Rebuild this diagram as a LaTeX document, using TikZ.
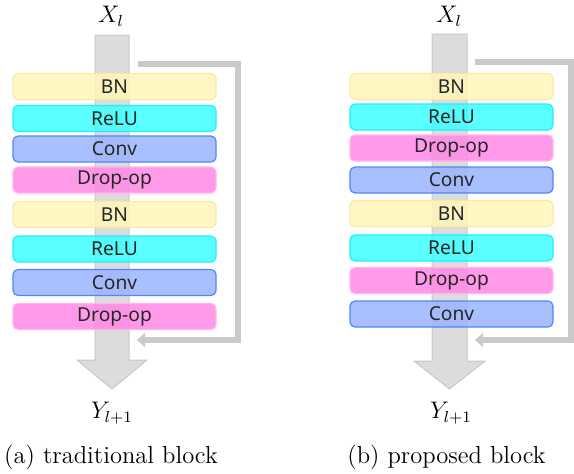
\documentclass[tikz,border=0pt]{standalone}
\usepackage{fontspec}
\newfontfamily\opfont{Noto Sans}
\usetikzlibrary{arrows.meta, positioning}

\definecolor{bnfill}{HTML}{FFF7BA}
\definecolor{bnline}{HTML}{FBEA9C}
\definecolor{relufill}{HTML}{3DFFFF}
\definecolor{reluline}{HTML}{22EEFF}
\definecolor{convfill}{HTML}{9BB4FF}
\definecolor{convline}{HTML}{4F86FF}
\definecolor{dropfill}{HTML}{FF88E6}
\definecolor{dropline}{HTML}{FFB4F0}
\definecolor{shaftgray}{HTML}{DCDCDC}
\definecolor{shaftline}{HTML}{C8C8C8}
\definecolor{skipgray}{HTML}{CBCACA}

\begin{document}
\begin{tikzpicture}[x=0.5pt, y=-0.5pt,
        op/.style={rectangle, rounded corners=2.5pt, line width=0.6pt,
                   fill opacity=0.85, text opacity=1, inner sep=0pt,
                   minimum width=101.5pt, minimum height=13pt,
                   text=black!85, font=\opfont\fontsize{9.6}{11}\selectfont},
        bn/.style={op, draw=bnline, fill=bnfill},
        relu/.style={op, draw=reluline, fill=relufill},
        conv/.style={op, draw=convline, fill=convfill},
        drop/.style={op, draw=dropline, fill=dropfill},
        shaft/.style={fill=shaftgray, draw=shaftline, line width=0.5pt},
        skip/.style={draw=skipgray, line width=3pt,
                     -{Triangle[length=4pt,width=7pt]}},
        io/.style={font=\fontsize{12}{14}\selectfont},
        subcap/.style={font=\fontsize{12.3}{14}\selectfont}]
      \useasboundingbox (0,0) rectangle (574,473);

      % main paths behind the layers
      \fill[shaft] (95,35) -- (129,35) -- (129,360) -- (147,360) -- (112,389)
                   -- (77,360) -- (95,360) -- cycle;
      \fill[shaft] (432,34) -- (467,34) -- (467,361) -- (485,361) -- (449.5,389)
                   -- (414,361) -- (432,361) -- cycle;

      % (a) traditional block
      \node[io] (xa) at (111,16) {$X_l$};
      \node[bn]   (a1) at (114.5,86.5)  {BN};
      \node[relu] (a2) at (114.5,118.5) {ReLU};
      \node[conv] (a3) at (114.5,149)   {Conv};
      \node[drop] (a4) at (114.5,180)   {Drop-op};
      \node[bn]   (a5) at (114.5,214.5) {BN};
      \node[relu] (a6) at (114.5,249)   {ReLU};
      \node[conv] (a7) at (114.5,282.5) {Conv};
      \node[drop] (a8) at (114.5,316.5) {Drop-op};
      \node[io] (ya) at (112,413) {$Y_{l+1}$};
      \node[subcap] (capa) at (111,457) {(a) traditional block};

      \coordinate (askipin)  at (138,63.5);
      \coordinate (askipout) at (137,340);
      \draw[skip] (askipin) -- (238,63.5) -- (238,340) -- (askipout);

      % (b) proposed block
      \node[io] (xb) at (449,16) {$X_l$};
      \node[bn]   (b1) at (451.5,86.5) {BN};
      \node[relu] (b2) at (451.5,117)  {ReLU};
      \node[drop] (b3) at (451.5,148)  {Drop-op};
      \node[conv] (b4) at (451.5,180)  {Conv};
      \node[bn]   (b5) at (451.5,213.5) {BN};
      \node[relu] (b6) at (451.5,248)  {ReLU};
      \node[drop] (b7) at (451.5,280.5) {Drop-op};
      \node[conv] (b8) at (451.5,314)  {Conv};
      \node[io] (yb) at (451,413) {$Y_{l+1}$};
      \node[subcap] (capb) at (446.5,457) {(b) proposed block};

      \coordinate (bskipin)  at (475,61.5);
      \coordinate (bskipout) at (475,340);
      \draw[skip] (bskipin) -- (571,61.5) -- (571,340) -- (bskipout);
    \end{tikzpicture}
\end{document}
